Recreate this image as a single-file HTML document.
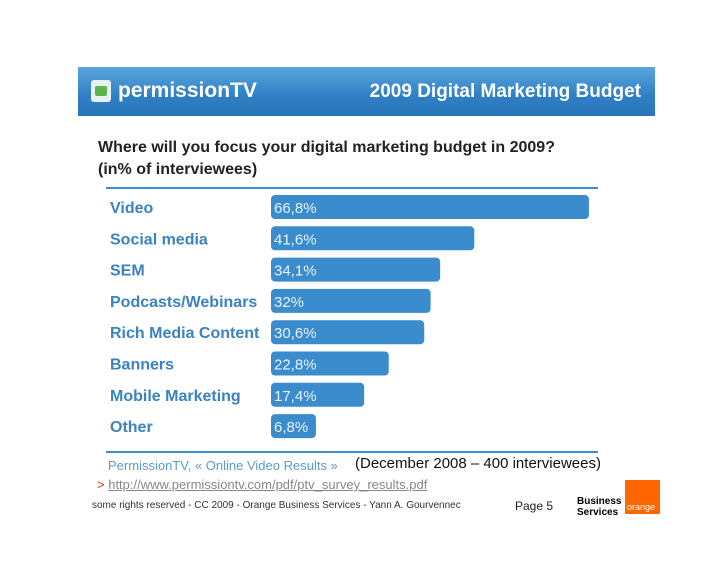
<!DOCTYPE html>
<html><head><meta charset="utf-8"><style>
body{margin:0;width:728px;height:563px;background:#fff;position:relative;overflow:hidden;font-family:"Liberation Sans",sans-serif}
.abs{position:absolute}
</style></head><body>
<div class="abs" style="left:78px;top:67px;width:577px;height:49px;background:linear-gradient(180deg,#5aa6dd,#2f7fc4 60%,#2a74b8)">
  <div class="abs" style="left:13px;top:13px;width:20px;height:22px;background:#e8f0f4;border-radius:3px"><div style="position:absolute;left:4px;top:6px;width:12px;height:10px;background:#5cb54a;border-radius:2px"></div></div>
  <div class="abs" style="left:40px;top:12px;color:#fff;font-weight:bold;font-size:21px">permissionTV</div>
  <div class="abs" style="right:14px;top:14px;color:#fff;font-weight:bold;font-size:19px">2009 Digital Marketing Budget</div>
</div>
<div class="abs" style="left:98px;top:137px;font-weight:bold;font-size:16px;line-height:22px;color:#222">Where will you focus your digital marketing budget in 2009?<br>(in% of interviewees)</div>
<div class="abs" style="left:106px;top:187px;width:492px;height:2px;background:#3d8fcf"></div>
<svg class="abs" style="left:0;top:0" width="728" height="563" id="chart"></svg>
<div class="abs" style="left:106px;top:451px;width:492px;height:2px;background:#3d8fcf"></div>
<div class="abs" style="left:108px;top:458px;font-size:13px;color:#5b9bd0">PermissionTV, « Online Video Results »</div>
<div class="abs" style="left:355px;top:455px;font-size:15px;color:#111">(December 2008 – 400 interviewees)</div>
<div class="abs" style="left:97px;top:477px;font-size:13px;color:#888"><span style="color:#e0301e">&gt;</span> <u>http://www.permissiontv.com/pdf/ptv_survey_results.pdf</u></div>
<div class="abs" style="left:92px;top:500px;font-size:10px;color:#333">some rights reserved - CC 2009 - Orange Business Services - Yann A. Gourvennec</div>
<div class="abs" style="left:515px;top:499px;font-size:12px;color:#222">Page 5</div>
<div class="abs" style="left:577px;top:496px;font-size:10px;font-weight:bold;line-height:11px;color:#000">Business<br>Services</div>
<div class="abs" style="left:625px;top:480px;width:35px;height:34px;background:#ff6600"><span style="position:absolute;left:2px;bottom:2px;color:#fff;font-size:9px">orange</span></div>
<script>
const categories=["Video","Social media","SEM","Podcasts/Webinars","Rich Media Content","Banners","Mobile Marketing","Other"];
const values=[66.8,41.6,34.1,32,30.6,22.8,17.4,6.8];
const valueLabels=["66,8%","41,6%","34,1%","32%","30,6%","22,8%","17,4%","6,8%"];
const svg=document.getElementById('chart');
const NS="http://www.w3.org/2000/svg";
const x0=271,xs=v=>14+4.55*v,yc=i=>207+i*31.3;
categories.forEach((c,i)=>{
  const r=document.createElementNS(NS,'rect');
  r.setAttribute('x',x0);r.setAttribute('y',yc(i)-12);r.setAttribute('width',xs(values[i]));r.setAttribute('height',24);
  r.setAttribute('rx',4);r.setAttribute('fill','#3b8ccd');
  
  
  svg.appendChild(r);
  const t=document.createElementNS(NS,'text');
  t.setAttribute('x',274);t.setAttribute('y',yc(i)+6);t.setAttribute('fill','#e8f2fb');t.setAttribute('font-size','15');
  t.setAttribute('font-family','Liberation Sans, sans-serif');t.textContent=valueLabels[i];
  
  
  svg.appendChild(t);
  const l=document.createElementNS(NS,'text');
  l.setAttribute('x',110);l.setAttribute('y',yc(i)+6);l.setAttribute('fill','#3a82c0');l.setAttribute('font-size','16');
  l.setAttribute('font-weight','bold');l.setAttribute('font-family','Liberation Sans, sans-serif');l.textContent=c;
  
  
  svg.appendChild(l);
});
</script>
</body></html>
